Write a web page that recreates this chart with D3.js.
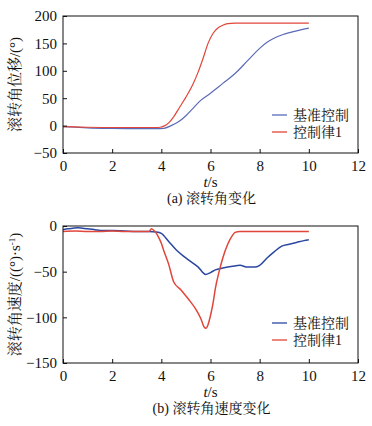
<!DOCTYPE html>
<html><head><meta charset="utf-8">
<script src="https://cdn.jsdelivr.net/npm/d3@7"></script>
<style>body{margin:0;background:#fff;}</style></head>
<body><svg id="c" width="372" height="426"></svg>
<script>
// ---- data ----
const xTicks = [0,2,4,6,8,10,12];
const yTicksA = [-50,0,50,100,150,200];
const yTicksB = [-150,-100,-50,0];
const seriesNames = ["基准控制","控制律1"];

// (a) roll angle displacement
const tA_base = [0,0.5,1,2,3,3.8,4.1,4.4,4.7,5.0,5.3,5.6,6.0,6.5,7.0,7.5,8.0,8.3,8.6,9.0,9.5,10];
const vA_base = [-2,-3,-4,-5,-5.5,-5.5,-5,0,7,18,32,46,59,77,95,118,141,152,160,167,173,178];
const tA_ctrl = [0,0.5,1,2,3,3.8,3.95,4.1,4.3,4.5,4.75,5.0,5.3,5.5,5.7,5.9,6.1,6.3,6.5,6.7,7.0,7.5,8,9,10];
const vA_ctrl = [-2,-2.5,-3,-3.5,-3.5,-3.5,-3,-1,5,16,34,52,77,98,123,150,168,178,183,186,187,187,187,187,187];

// (b) roll angular rate
const tB_base = [0,0.2,0.4,0.6,0.8,1.0,1.3,1.6,2,2.5,3,3.5,3.8,4.0,4.3,4.6,4.9,5.2,5.5,5.8,6.0,6.2,6.5,6.9,7.2,7.5,7.8,8.0,8.3,8.6,8.9,9.2,9.5,9.8,10];
const vB_base = [-4,-3,-2.5,-2,-2.5,-3,-4,-5,-5,-5.5,-6,-6,-6.5,-8,-17,-26,-33,-39,-45,-53,-51,-48,-46,-44,-43,-45,-45,-43,-35,-28,-22,-20,-18,-16,-15];
const tB_ctrl = [0,0.5,1,1.5,2,2.5,3,3.5,3.6,3.7,3.8,3.9,4.0,4.1,4.3,4.5,4.8,5.1,5.4,5.6,5.75,5.82,5.9,6.0,6.1,6.2,6.35,6.5,6.7,6.9,7.0,7.2,7.5,8,8.5,9,9.5,10];
const vB_ctrl = [-6,-5.5,-6,-6,-5.5,-6,-6,-6,-3,-5,-8,-13,-19,-27,-42,-61,-70,-80,-91,-101,-111,-112,-108,-98,-85,-68,-50,-35,-20,-10,-7,-6,-6,-6,-6,-6,-6,-6];

const colBlueA = "#5a6ab8", colBlueB = "#2a47a0", colRed = "#e0463a";
const FONT = '"Liberation Serif","Noto Serif CJK SC",serif';

const svg = d3.select("#c");
const X0 = 63, X1 = 358;

function txt(sel, size){ return sel.style("font-family",FONT).style("font-size",size+"px").attr("fill","#111"); }

function panel(opt){
  const g = svg.append("g");
  const x = d3.scaleLinear().domain([0,12]).range([X0,X1]);
  const y = d3.scaleLinear().domain(opt.yDomain).range([opt.yBottom,opt.yTop]);
  const line = d3.line().x(d=>x(d[0])).y(d=>y(d[1])).curve(d3.curveMonotoneX);
  opt.series.forEach(s=>{
    g.append("path").datum(d3.zip(s.t,s.v)).attr("d",line).attr("fill","none")
      .attr("stroke",s.color).attr("stroke-width",s.w);
  });
  g.append("rect").attr("x",X0).attr("y",opt.yTop).attr("width",X1-X0).attr("height",opt.yBottom-opt.yTop)
    .attr("fill","none").attr("stroke","#111").attr("stroke-width",1);
  const xa = g.append("g").attr("transform",`translate(0,${opt.yBottom})`)
    .call(d3.axisBottom(x).tickValues(xTicks).tickSize(-4).tickPadding(7).tickFormat(d3.format("d")));
  xa.select(".domain").remove();
  xa.selectAll("line").attr("stroke","#111");
  txt(xa.selectAll("text"),15);
  const ya = g.append("g").attr("transform",`translate(${X0},0)`)
    .call(d3.axisLeft(y).tickValues(opt.yTicks).tickSize(-4).tickPadding(6).tickFormat(d=>d<0?"\u2212"+Math.abs(d):d));
  ya.select(".domain").remove();
  ya.selectAll("line").attr("stroke","#111");
  txt(ya.selectAll("text"),15);
  opt.series.forEach((s,i)=>{
    const ly = opt.legendY + i*17;
    g.append("line").attr("x1",272).attr("x2",287).attr("y1",ly).attr("y2",ly).attr("stroke",s.color).attr("stroke-width",1.3);
    txt(g.append("text").attr("x",293).attr("y",ly+5).text(s.name),14);
  });
  const xt = txt(g.append("text").attr("x",(X0+X1)/2).attr("y",opt.yBottom+34).attr("text-anchor","middle"),15);
  xt.append("tspan").style("font-style","italic").text("t");
  xt.append("tspan").text("/s");
  txt(g.append("text").attr("x",(X0+X1)/2+1).attr("y",opt.yBottom+50).attr("text-anchor","middle").text(opt.caption),14);
  const yt = txt(g.append("text").attr("transform",`translate(20,${(opt.yTop+opt.yBottom)/2}) rotate(-90)`)
    .attr("text-anchor","middle"),15);
  opt.yTitle(yt);
}

panel({
  yDomain:[-50,200], yTop:16, yBottom:153, yTicks:yTicksA, legendY:115,
  caption:"(a) 滚转角变化",
  series:[
    {name:seriesNames[0], t:tA_base, v:vA_base, color:colBlueA, w:1.2},
    {name:seriesNames[1], t:tA_ctrl, v:vA_ctrl, color:colRed, w:1.2}
  ],
  yTitle: t=>{ t.append("tspan").text("滚转角位移/(°)"); }
});

panel({
  yDomain:[-150,0], yTop:226, yBottom:363, yTicks:yTicksB, legendY:323,
  caption:"(b) 滚转角速度变化",
  series:[
    {name:seriesNames[0], t:tB_base, v:vB_base, color:colBlueB, w:1.5},
    {name:seriesNames[1], t:tB_ctrl, v:vB_ctrl, color:colRed, w:1.5}
  ],
  yTitle: t=>{
    t.append("tspan").text("滚转角速度/((°)·s");
    t.append("tspan").attr("baseline-shift","super").style("font-size","9px").text("-1");
    t.append("tspan").text(")");
  }
});
</script></body></html>
